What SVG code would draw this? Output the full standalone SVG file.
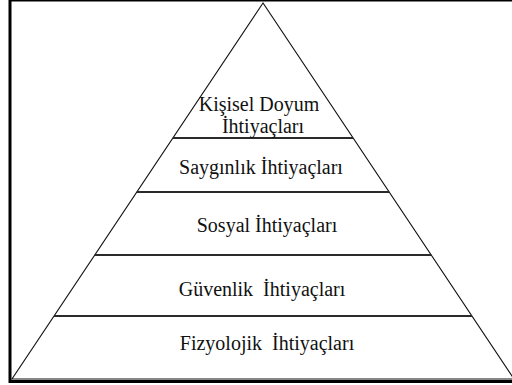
<svg xmlns="http://www.w3.org/2000/svg" width="512" height="385" viewBox="0 0 512 385">
  <style>
    .frame { fill: none; stroke: #000; stroke-width: 3; }
    .pyramid { fill: #fff; stroke: #111; stroke-width: 1.1; }
    .divider { stroke: #2a2a2a; stroke-width: 2; }
    .label { font-family: "Liberation Serif", "Times New Roman", serif; font-size: 20px; fill: #111; text-anchor: middle; }
  </style>
  <rect width="512" height="385" fill="#fff"/>
  <rect class="frame" x="10" y="0" width="510" height="381.5"/>

  <!-- pyramid outline -->
  <polygon class="pyramid" points="263,3 12,379 514,379"/>

  <!-- level dividers -->
  <g id="dividers">
    <line class="divider" x1="172.9" y1="138" x2="353.1" y2="138"/>
    <line class="divider" x1="136.8" y1="192" x2="389.2" y2="192"/>
    <line class="divider" x1="94.8" y1="255" x2="431.2" y2="255"/>
    <line class="divider" x1="54" y1="316" x2="472" y2="316"/>
  </g>

  <g id="level-self-actualization">
    <text class="label" x="259" y="111">Kişisel Doyum</text>
    <text class="label" x="263" y="133">İhtiyaçları</text>
  </g>
  <g id="level-esteem">
    <text class="label" x="261" y="174">Saygınlık İhtiyaçları</text>
  </g>
  <g id="level-social">
    <text class="label" x="267" y="232">Sosyal İhtiyaçları</text>
  </g>
  <g id="level-safety">
    <text class="label" x="262" y="296" xml:space="preserve">Güvenlik  İhtiyaçları</text>
  </g>
  <g id="level-physiological">
    <text class="label" x="267" y="350" xml:space="preserve">Fizyolojik  İhtiyaçları</text>
  </g>
</svg>
